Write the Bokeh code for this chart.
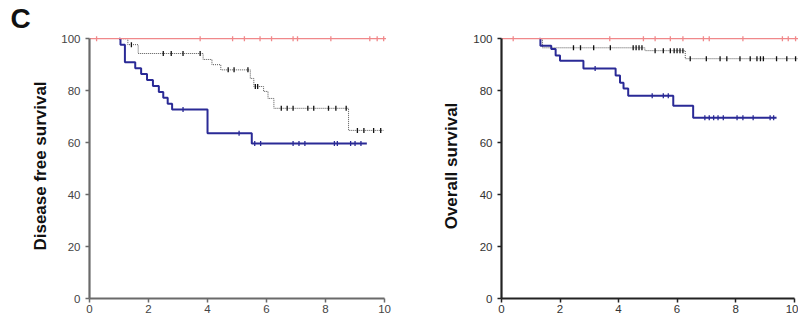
import numpy as np
from bokeh.plotting import figure
from bokeh.layouts import row
from bokeh.models import FixedTicker, Title
from bokeh.embed import file_html
from bokeh.resources import INLINE

# ---------------- data ----------------
x_ticks = [0, 2, 4, 6, 8, 10]
y_ticks = [0, 20, 40, 60, 80, 100]

# Disease free survival
dfs_red_t = [0.0, 10.05]
dfs_red_s = [100, 100]
dfs_red_cens = [0.24, 3.75, 4.85, 5.25, 5.78, 6.17, 6.9, 7.05, 8.18, 9.5, 9.75, 9.97]

dfs_blue_t = [1.0, 1.05, 1.2, 1.55, 1.75, 1.95, 2.15, 2.35, 2.5, 2.65, 2.8, 4.0, 5.5, 9.4]
dfs_blue_s = [100, 97.7, 90.9, 88.6, 86.4, 84.1, 81.8, 79.5, 77.3, 75.0, 72.7, 63.6, 59.7, 59.7]
dfs_blue_cens = [3.17, 5.07, 5.6, 5.8, 6.9, 7.1, 7.3, 8.3, 8.4, 8.85, 9.0, 9.2]

dfs_gray_t = [1.0, 1.3, 1.65, 3.85, 4.15, 4.45, 5.45, 5.57, 5.9, 6.05, 6.25, 8.78, 9.97]
dfs_gray_s = [100, 97.7, 94.3, 92.0, 90.0, 88.0, 84.7, 81.6, 79.7, 77.0, 73.2, 64.7, 64.7]
dfs_gray_cens = [1.42, 2.5, 2.77, 3.17, 3.75, 4.7, 4.9, 5.37, 5.62, 5.7, 6.5, 6.7, 6.9,
                 7.4, 7.6, 8.1, 8.35, 8.7, 9.08, 9.3, 9.63, 9.87]

# Overall survival
os_red_t = [0.0, 10.15]
os_red_s = [100, 100]
os_red_cens = [0.4, 3.7, 4.85, 5.25, 5.77, 6.2, 6.9, 7.1, 8.25, 9.6, 9.8, 10.05]

os_blue_t = [1.3, 1.33, 1.7, 1.85, 2.0, 2.8, 3.9, 4.05, 4.17, 4.33, 5.87, 6.55, 9.4]
os_blue_s = [100, 97.3, 96.0, 93.5, 91.5, 88.5, 85.8, 83.0, 80.8, 78.0, 74.2, 69.6, 69.6]
os_blue_cens = [3.2, 5.15, 5.53, 5.7, 6.95, 7.1, 7.25, 7.4, 7.58, 8.05, 8.25, 8.6, 9.18, 9.3]

os_gray_t = [1.3, 1.4, 4.9, 6.28, 10.15]
os_gray_s = [100, 96.5, 95.4, 92.3, 92.3]
os_gray_cens = [2.46, 2.7, 3.15, 3.72, 4.5, 4.6, 4.7, 4.8, 5.25, 5.53, 5.77, 5.9, 6.0,
                6.1, 6.2, 6.45, 7.0, 7.47, 7.7, 8.15, 8.5, 8.73, 8.85, 8.95, 9.4, 9.75, 10.05]

RED = "#f0888a"
BLUE = "#2a2a96"
GRAY = "#555555"


def step_value(ts, ss, t):
    idx = np.searchsorted(ts, t, side="right") - 1
    idx = max(idx, 0)
    return ss[idx]


def make_panel(width, border_left, border_right, ylabel, axis_color, label_color,
               label_standoff, series, x_end):
    p = figure(width=width, height=320, x_range=(0, x_end), y_range=(0, 102),
               output_backend="svg", toolbar_location=None,
               min_border_left=border_left, min_border_right=border_right,
               min_border_top=32, min_border_bottom=22)
    p.grid.visible = False
    p.outline_line_color = None
    p.background_fill_color = "white"
    p.border_fill_color = "white"

    for ax, ticks in ((p.xaxis[0], x_ticks), (p.yaxis[0], y_ticks)):
        ax.ticker = FixedTicker(ticks=ticks)
        ax.axis_line_color = axis_color
        ax.axis_line_width = 2.2
        ax.major_tick_line_color = axis_color
        ax.major_tick_line_width = 1.5
        ax.major_tick_out = 4
        ax.major_tick_in = 0
        ax.minor_tick_line_color = None
        ax.major_label_text_font = "Liberation Sans"
        ax.major_label_text_font_size = "11.5px"
        ax.major_label_text_color = label_color
    p.xaxis.bounds = (0, 10)
    p.yaxis.bounds = (0, 100)
    p.xaxis.major_label_standoff = 2
    p.yaxis.major_label_standoff = 5
    p.yaxis.axis_label = ylabel
    p.yaxis.axis_label_text_font = "Liberation Sans"
    p.yaxis.axis_label_text_font_style = "bold"
    p.yaxis.axis_label_text_font_size = "17px"
    p.yaxis.axis_label_text_color = "#111111"
    p.yaxis.axis_label_standoff = label_standoff

    for ts, ss, cens, color, lw, dash in series:
        p.step(ts, ss, mode="after", line_color=color, line_width=lw, line_dash=dash)
        cy = [step_value(ts, ss, c) for c in cens]
        mcol = "#111111" if color == GRAY else color
        p.scatter(cens, cy, marker="dash", angle=np.pi / 2, size=5,
                  line_color=mcol, line_width=1.3)
    return p


p1 = make_panel(400, 89, 13, "Disease free survival", "#6a6a6a", "#444444", 8,
                [(dfs_gray_t, dfs_gray_s, dfs_gray_cens, GRAY, 1, "1 1"),
                 (dfs_blue_t, dfs_blue_s, dfs_blue_cens, BLUE, 2, "solid"),
                 (dfs_red_t, dfs_red_s, dfs_red_cens, RED, 1.2, "solid")], 10.1)
p1.add_layout(Title(text="C", text_font="Liberation Sans", text_font_style="bold",
                    text_font_size="28px", text_color="#111111", align="left",
                    offset=-79, standoff=0, text_line_height=1.4,
                    vertical_align="bottom"), "above")

p2 = make_panel(398, 101, 0, "Overall survival", "#222222", "#333333", 9,
                [(os_gray_t, os_gray_s, os_gray_cens, GRAY, 1, "1 1"),
                 (os_blue_t, os_blue_s, os_blue_cens, BLUE, 2, "solid"),
                 (os_red_t, os_red_s, os_red_cens, RED, 1.2, "solid")], 10.15)

layout = row(p1, p2)
open("out.html", "w").write(file_html(layout, INLINE))
